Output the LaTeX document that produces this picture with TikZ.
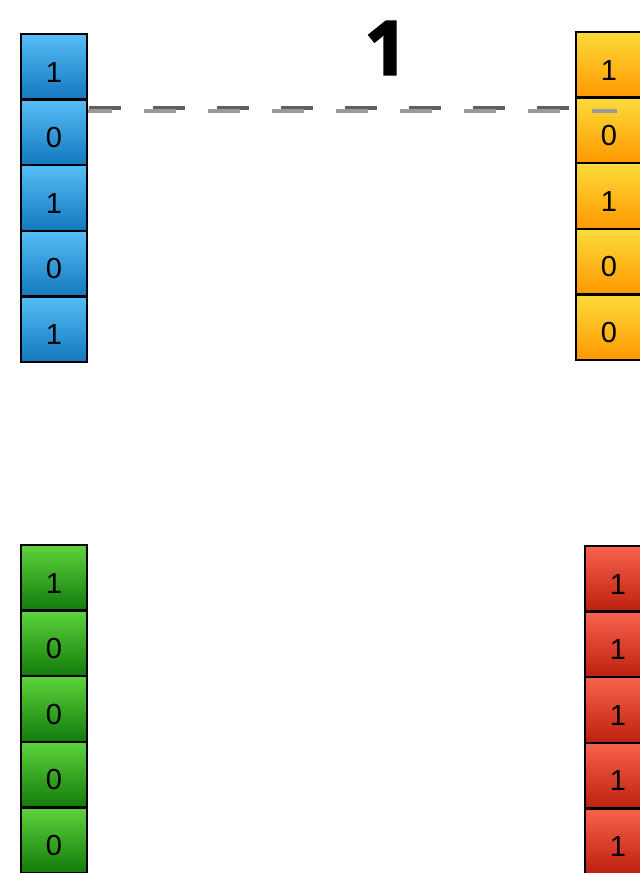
\documentclass[tikz,border=0pt]{standalone}
\usepackage{fontspec}
\setmainfont{Liberation Sans}
\newfontfamily\titlefont{Open Sans}[BoldFeatures={FakeBold=2.5}]
\definecolor{bluetop}{HTML}{55BDF7}
\definecolor{bluebot}{HTML}{1478BD}
\definecolor{yeltop}{HTML}{FCDC3A}
\definecolor{yelbot}{HTML}{FF9800}
\definecolor{grntop}{HTML}{5DD43D}
\definecolor{grnbot}{HTML}{127A0B}
\definecolor{redtop}{HTML}{F8634E}
\definecolor{redbot}{HTML}{BC200F}
\definecolor{darkdash}{HTML}{606060}
\definecolor{lightdash}{HTML}{9A9A9A}
\tikzset{
  cell/.style={draw=black, line width=2.5pt, minimum width=66pt, minimum height=65.6pt,
    inner sep=0pt, text height=30.4pt, text depth=0pt,
    font=\fontsize{29}{30}\selectfont},
  bluecell/.style={cell, top color=bluetop, bottom color=bluebot},
  yelcell/.style={cell, top color=yeltop, bottom color=yelbot},
  grncell/.style={cell, top color=grntop, bottom color=grnbot},
  redcell/.style={cell, top color=redtop, bottom color=redbot},
  darkline/.style={draw=darkdash, line width=4pt, dash pattern=on 32pt off 32pt},
  lightline/.style={draw=lightdash, line width=4pt, dash pattern=on 32pt off 32pt, dash phase=8pt},
  bigdigit/.style={font=\titlefont\bfseries\fontsize{75}{75}\selectfont, inner sep=0pt}
}
\begin{document}
\begin{tikzpicture}[x=1pt,y=-1pt]
\useasboundingbox (0,0) rectangle (640,873);
\coordinate (dstart) at (89,107.5);
\coordinate (dend) at (590,107.5);
\draw[darkline] (dstart) -- (dend);
% blue column
\foreach \v [count=\i] in {1,0,1,0,1}
  \node[bluecell] (b\i) at (54, 34+65.6*\i-32.8) {\v};
% yellow column
\foreach \v [count=\i] in {1,0,1,0,0}
  \node[yelcell] (y\i) at (609, 32+65.6*\i-32.8) {\v};
% green column
\foreach \v [count=\i] in {1,0,0,0,0}
  \node[grncell] (g\i) at (54, 545+65.6*\i-32.8) {\v};
% red column
\foreach \v [count=\i] in {1,1,1,1,1}
  \node[redcell] (r\i) at (618, 546+65.6*\i-32.8) {\v};
\coordinate (lstart) at (88,110.5);
\coordinate (lend) at (617,110.5);
\draw[lightline] (lstart) -- (lend);
\node[bigdigit] (title) at (386,48) {1};
\end{tikzpicture}
\end{document}
